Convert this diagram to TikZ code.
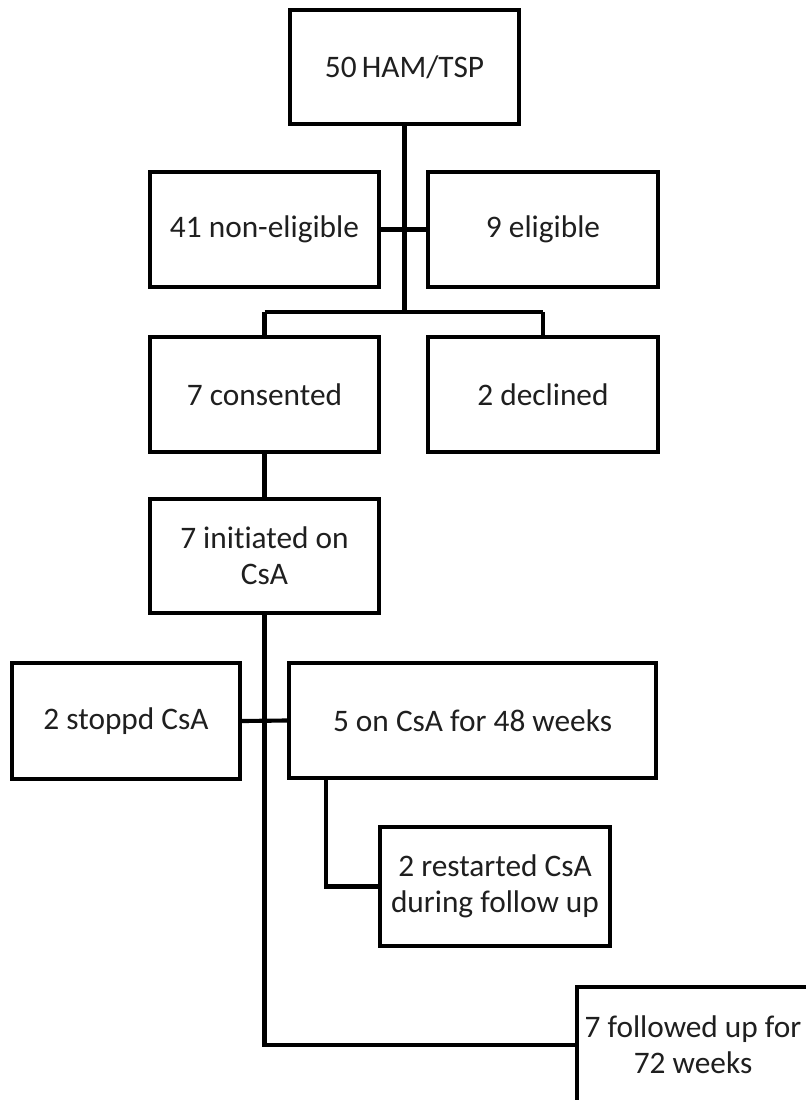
\documentclass[tikz,border=0pt]{standalone}
\usepackage{fontspec}
\setmainfont{Carlito}[Ligatures=NoCommon]
\begin{document}
\begin{tikzpicture}[x=0.75pt,y=-0.75pt,
  box/.style={draw=black,line width=3.1pt,fill=white,inner sep=0pt,align=center,
    font=\fontsize{23.5}{27}\selectfont,text=black!88},
  conn/.style={draw=black,line width=3.1pt}]
\clip (0,0) rectangle (806,1100);
\fill[white] (0,0) rectangle (806,1100);
% boxes
\node[box,minimum width=229*0.75pt,minimum height=114*0.75pt] (ham) at (404.5,67) {50\,HAM/TSP};
\node[box,minimum width=229*0.75pt,minimum height=115*0.75pt] (nonel) at (264.5,229.5) {41 non-eligible};
\node[box,minimum width=230*0.75pt,minimum height=115*0.75pt] (elig) at (543,229.5) {9 eligible};
\node[box,minimum width=229*0.75pt,minimum height=115*0.75pt] (cons) at (264.5,394.5) {7 consented};
\node[box,minimum width=230*0.75pt,minimum height=115*0.75pt] (decl) at (543,394.5) {2 declined};
\node[box,minimum width=229*0.75pt,minimum height=114*0.75pt] (init) at (264.5,556) {7 initiated on\\CsA};
\node[box,minimum width=228*0.75pt,minimum height=116*0.75pt] (stop) at (126,721) {2 stoppd CsA};
\node[box,minimum width=367*0.75pt,minimum height=115*0.75pt] (five) at (472.5,720.5) {5 on CsA for 48 weeks};
\node[box,minimum width=230*0.75pt,minimum height=119*0.75pt] (rest) at (495,886.5) {2 restarted CsA\\during follow up};
\node[box,minimum width=232*0.75pt,minimum height=116*0.75pt] (foll) at (693,1045) {7 followed up for\\72 weeks};
% junction coordinates
\coordinate (j1) at (404.5,312);
\coordinate (jl) at (264.5,312);
\coordinate (jr) at (543,312);
\coordinate (j2) at (264.5,1045);
\coordinate (jx) at (326,0);
% connectors
\draw[conn] (ham.south) -- (j1);
\draw[conn] (nonel.east) -- (elig.west);
\draw[conn] (jl) -- (jr);
\draw[conn] (jl) -- (cons.north);
\draw[conn] (jr) -- (decl.north);
\draw[conn] (cons.south) -- (init.north);
\draw[conn] (init.south) -- (j2) -- (foll.west);
\draw[conn] (stop.east) -- (five.west);
\draw[conn] (five.south -| jx) |- (rest.west);
\end{tikzpicture}
\end{document}
